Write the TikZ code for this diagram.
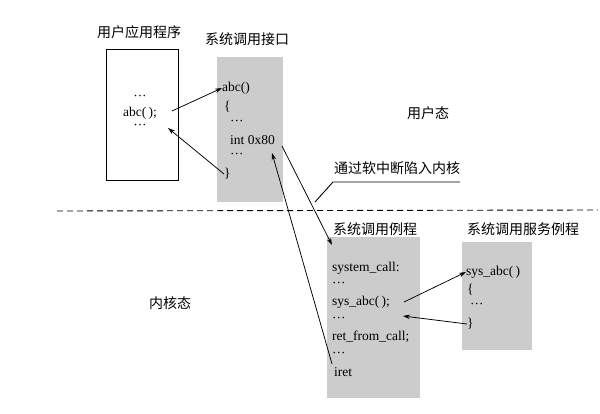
\documentclass[tikz,border=0pt]{standalone}
\usepackage{fontspec}
\setmainfont{Liberation Serif}
\newfontfamily\cjk{Noto Sans CJK SC}
\usetikzlibrary{arrows.meta}
\begin{document}
\begin{tikzpicture}[x=1pt,y=-1pt,
  code/.style={anchor=west, inner sep=0pt, font=\fontsize{13.5}{15}\selectfont},
  ctext/.style={inner sep=0pt, font=\fontsize{13.5}{15}\selectfont},
  ttl/.style={font=\cjk\fontsize{14}{16}\selectfont, inner sep=1pt},
  arr/.style={-{Stealth[length=7pt,width=4.5pt]}, line width=0.75pt},
  graybox/.style={fill=black!20, draw=none}]
\useasboundingbox (0,0) rectangle (600,414);
% titles
\node[ttl] (t1) at (139,32) {用户应用程序};
\node[ttl] (t2) at (247,39) {系统调用接口};
\node[ttl] (t3) at (375,229) {系统调用例程};
\node[ttl] (t4) at (523,229) {系统调用服务例程};
\node[ttl] (us) at (428,113) {用户态};
\node[ttl] (ks) at (170,303) {内核态};
\node[ttl] (trap) at (397,168) {通过软中断陷入内核};
% boxes
\node[draw, line width=0.9pt, minimum width=72pt, minimum height=131pt, inner sep=0pt] (ubox) at (142,114.5) {};
\node[graybox, minimum width=66pt, minimum height=145pt, inner sep=0pt] (gb1) at (250,129.5) {};
\node[graybox, minimum width=93pt, minimum height=161pt, inner sep=0pt] (gb2) at (373.5,317.5) {};
\node[graybox, minimum width=70pt, minimum height=108pt, inner sep=0pt] (gb3) at (497,296) {};
% user program text
\node[ctext] (ud1) at (140,98) {···};
\node[ctext] (uabc) at (140,113) {abc(\,);};
\node[ctext] (ud2) at (140,127) {···};
% interface text
\node[code] (iabc) at (222,88) {abc()};
\node[code] (ib1) at (224,107) {\{};
\node[code] (id1) at (230,123) {···};
\node[code] (iint) at (230,140) {int 0x80};
\node[code] (id2) at (230,156) {···};
\node[code] (ib2) at (224,174) {\}};
% system call routine text
\node[code] (ssc) at (332,268) {system\_call:};
\node[code] (sd1) at (332,285) {···};
\node[code] (sabc) at (332,302) {sys\_abc(\,);};
\node[code] (sd2) at (332,320) {···};
\node[code] (sret) at (332,337) {ret\_from\_call;};
\node[code] (sd3) at (332,355) {···};
\node[code] (siret) at (334,372) {iret};
% service routine text
\node[code] (vabc) at (466,272) {sys\_abc(\,)};
\node[code] (vb1) at (467,290) {\{};
\node[code] (vd) at (470,306) {···};
\node[code] (vb2) at (467,324) {\}};
% dashed boundary
\coordinate (dl) at (57,211);
\coordinate (dr) at (598,210);
\draw[line width=0.9pt, dash pattern=on 6pt off 4pt] (dl) -- (dr);
% free-end coordinates
\coordinate (uret) at (168,128);
\coordinate (scin) at (332,245);
\coordinate (intin) at (272,153);
\coordinate (iretout) at (332,364);
\coordinate (intout) at (282,146);
\coordinate (ucall) at (172,111);
\coordinate (sret2) at (403,316);
\coordinate (scall2) at (404,302);
% connectors
\draw[arr] (ucall) -- (iabc.west);
\draw[arr] (ib2.west) -- (uret);
\draw[arr] (intout) -- (scin);
\draw[arr] (iretout) -- (intin);
\draw[arr] (scall2) -- (vabc.west);
\draw[arr] (vb2.west) -- (sret2);
% leader line
\coordinate (l1) at (460,182);
\coordinate (l2) at (333,182);
\coordinate (l3) at (315,202);
\draw[line width=0.9pt] (l1) -- (l2) -- (l3);
\end{tikzpicture}
\end{document}
